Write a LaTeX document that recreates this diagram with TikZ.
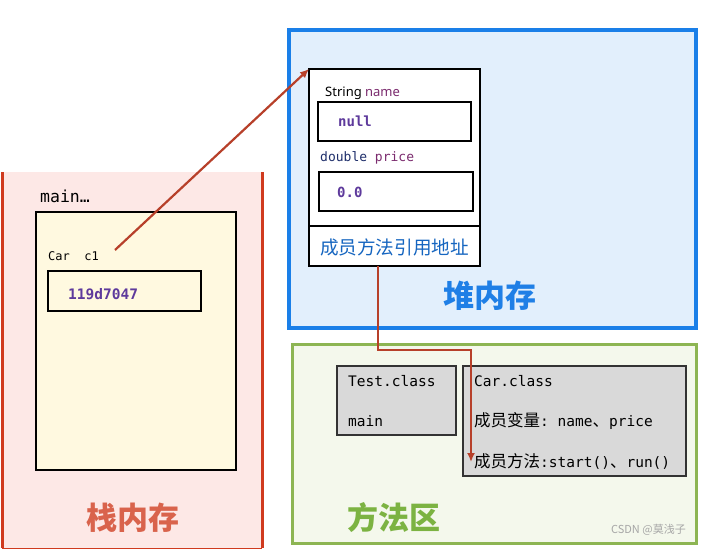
\documentclass[tikz,border=0pt]{standalone}
\usepackage{fontspec}
\setmainfont{Noto Sans}
\setmonofont{DejaVu Sans Mono}
\newfontfamily\cjk{Noto Sans CJK SC}
\usetikzlibrary{arrows.meta}
\definecolor{stackfill}{HTML}{FDE8E6}
\definecolor{stackred}{HTML}{D03A1E}
\definecolor{cream}{HTML}{FFF9E0}
\definecolor{heapblue}{HTML}{1A7FE8}
\definecolor{heapfill}{HTML}{E2EFFC}
\definecolor{greenline}{HTML}{8DB553}
\definecolor{greenfill}{HTML}{F4F8EC}
\definecolor{graybox}{HTML}{D9D9D9}
\definecolor{arrowred}{HTML}{B7402A}
\definecolor{valpurple}{HTML}{5E3A9C}
\definecolor{fieldpurple}{HTML}{7B2B6E}
\definecolor{navy}{HTML}{1F2F6B}
\definecolor{stacktitle}{HTML}{D9634C}
\definecolor{heaptitle}{HTML}{1F7FE6}
\definecolor{areatitle}{HTML}{7CB342}
\definecolor{refblue}{HTML}{1565C0}
\newcommand{\zh}[1]{{\cjk\fontsize{16.5}{16.5}\selectfont #1}}
\tikzset{
  box/.style={draw, anchor=north west, inner sep=0pt, outer sep=0pt},
  lbl/.style={anchor=west, inner sep=0pt},
  conn/.style={draw=arrowred, line width=2.2pt, -{Latex[length=9pt,width=8pt]}},
  title/.style={font=\cjk\bfseries\fontsize{31}{31}\selectfont},
}
\begin{document}
\begin{tikzpicture}[x=1pt,y=-1pt]
\useasboundingbox (0,0) rectangle (704,552);
% stack
\node[box, draw=none, fill=stackfill, minimum width=260pt, minimum height=376pt] (stack) at (2,172) {};
\draw[stackred, line width=3pt] (stack.north west) -- (stack.south west);
\draw[stackred, line width=3pt] (stack.north east) -- (stack.south east);
\draw[stackred, line width=1pt] (stack.south west) -- (stack.south east);
\node[lbl, font=\ttfamily\fontsize{16.5}{16.5}\selectfont] (mainlbl) at (40,196) {main…};
\node[box, fill=cream, line width=1.5pt, minimum width=200pt, minimum height=258pt] (frame) at (36,212) {};
\node[lbl, font=\ttfamily\fontsize{12}{12}\selectfont] (carc1) at (48,256) {Car\ \ c1};
\node[box, fill=cream, line width=2pt, minimum width=153pt, minimum height=40pt] (refbox) at (48,271) {};
\node[lbl, font=\ttfamily\bfseries\fontsize{14.5}{14.5}\selectfont, text=valpurple] (refval) at (68,294) {119d7047};
\node[title, text=stacktitle] (stacklbl) at (133,518) {栈内存};
% heap
\node[box, draw=heapblue, fill=heapfill, line width=4pt, minimum width=407pt, minimum height=298pt] (heap) at (289,30) {};
\node[box, fill=white, line width=2.5pt, minimum width=171pt, minimum height=197pt] (obj) at (309,69) {};
\draw[line width=2.5pt] (309,226) -- (480,226);
\node[lbl, font=\fontsize{13}{13}\selectfont] (strname) at (325,93) {String \textcolor{fieldpurple}{name}};
\node[box, fill=white, line width=2pt, minimum width=153pt, minimum height=39pt] (nullbox) at (318,102) {};
\node[lbl, font=\ttfamily\bfseries\fontsize{14}{14}\selectfont, text=valpurple] (nullval) at (338,121) {null};
\node[lbl, font=\ttfamily\fontsize{13}{13}\selectfont, text=navy] (dblprice) at (320,158) {double \textcolor{fieldpurple}{price}};
\node[box, fill=white, line width=2pt, minimum width=154pt, minimum height=39pt] (pricebox) at (319,172) {};
\node[lbl, font=\ttfamily\bfseries\fontsize{14}{14}\selectfont, text=valpurple] (priceval) at (337,192) {0.0};
\node[font=\cjk\fontsize{18.6}{18.6}\selectfont, text=refblue] (methref) at (394.5,247) {成员方法引用地址};
\node[title, text=heaptitle] (heaplbl) at (490,296) {堆内存};
% method area
\node[box, draw=greenline, fill=greenfill, line width=3pt, minimum width=404pt, minimum height=199pt] (area) at (292,344) {};
\node[box, fill=graybox, draw=black!80, line width=1.2pt, minimum width=119pt, minimum height=69pt] (testcls) at (337,366) {};
\node[lbl, font=\ttfamily\fontsize{14.5}{14.5}\selectfont] (testname) at (348,381) {Test.class};
\node[lbl, font=\ttfamily\fontsize{14.5}{14.5}\selectfont] (testmain) at (348,421) {main};
\node[box, fill=graybox, draw=black!80, line width=1.2pt, minimum width=223pt, minimum height=110pt] (carcls) at (463,366) {};
\node[lbl, font=\ttfamily\fontsize{14.5}{14.5}\selectfont] (carname) at (474,381) {Car.class};
\node[lbl, font=\ttfamily\fontsize{14.5}{14.5}\selectfont] (carvars) at (474,421) {\zh{成员变量}: name\zh{、}price};
\node[lbl, font=\ttfamily\fontsize{14.5}{14.5}\selectfont] (carmeth) at (474,461) {\zh{成员方法}:start()\zh{、}run()};
\node[title, text=areatitle] (arealbl) at (394,518) {方法区};
\node[anchor=east, inner sep=0pt, font=\cjk\fontsize{11}{11}\selectfont, text=black!35] (wm) at (686,530) {CSDN @莫浅子};
% connectors
\coordinate (c1ref) at (115,250);
\coordinate (objref) at (378,266);
\coordinate (methtarget) at (471,462);
\draw[conn] (c1ref) -- (obj.north west);
\draw[conn] (objref) -- (378,350) -| (methtarget);
\end{tikzpicture}
\end{document}
